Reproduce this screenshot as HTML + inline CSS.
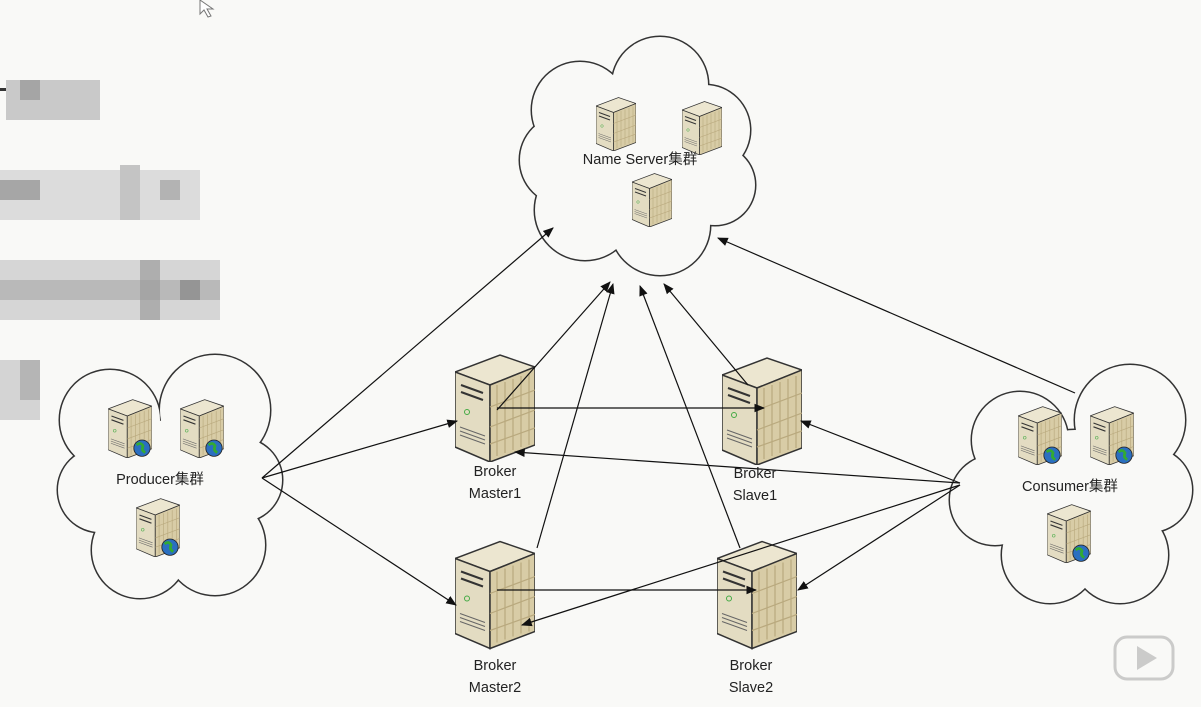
<!DOCTYPE html>
<html><head><meta charset="utf-8"><style>
html,body{margin:0;padding:0;background:#f9f9f7;}
svg text{font-family:"Liberation Sans","Noto Sans CJK SC",sans-serif;fill:#222;}
</style></head><body>
<svg width="1201" height="702" viewBox="0 0 1201 702" xmlns="http://www.w3.org/2000/svg">
<defs>
<symbol id="srv" viewBox="0 0 80 110">
<polygon points="0,20 45,3 80,15 35,33" fill="#ece6d0" stroke="#333" stroke-width="1.5"/>
<polygon points="0,20 35,33 35,110 0,95" fill="#e3dcc2" stroke="#333" stroke-width="1.5"/>
<polygon points="35,33 80,15 80,93 35,110" fill="#d8cca6" stroke="#333" stroke-width="1.5"/>
<g stroke="#b9a97e" stroke-width="1.2">
<line x1="42" y1="33" x2="42" y2="104"/><line x1="50" y1="30" x2="50" y2="101"/><line x1="58" y1="27" x2="58" y2="98"/><line x1="66" y1="24" x2="66" y2="95"/><line x1="74" y1="21" x2="74" y2="93"/>
<line x1="35" y1="55" x2="80" y2="38"/><line x1="35" y1="75" x2="80" y2="58"/><line x1="35" y1="92" x2="80" y2="76"/>
</g>
<g stroke="#333" stroke-width="2"><line x1="6" y1="33" x2="28" y2="41"/><line x1="6" y1="40" x2="28" y2="48"/></g>
<circle cx="12" cy="60" r="2.5" fill="none" stroke="#4a4" stroke-width="1"/>
<g stroke="#666" stroke-width="1"><line x1="5" y1="75" x2="30" y2="84"/><line x1="5" y1="79" x2="30" y2="88"/><line x1="5" y1="83" x2="30" y2="92"/></g>
</symbol>
<symbol id="srvg" viewBox="0 0 80 110">
<use href="#srv" x="0" y="0" width="80" height="110"/>
<circle cx="62" cy="92" r="15" fill="#2b6fc0" stroke="#222" stroke-width="1.5"/>
<path d="M52,86 q8,-6 12,2 q-4,8 4,12" fill="none" stroke="#3a3" stroke-width="5"/>
</symbol>
<marker id="ar" viewBox="0 0 10 10" refX="9" refY="5" markerWidth="9" markerHeight="9" orient="auto-start-reverse">
<path d="M0,1 L10,5 L0,9 z" fill="#111"/></marker>
</defs>

<!-- pixelated blocks -->
<g>
<rect x="6" y="80" width="94" height="40" fill="#c9c9c9"/><rect x="20" y="80" width="20" height="20" fill="#a5a5a5"/><rect x="0" y="88" width="6" height="3" fill="#333"/>
<rect x="0" y="170" width="200" height="50" fill="#dcdcdc"/><rect x="0" y="180" width="40" height="20" fill="#a6a6a6"/><rect x="120" y="165" width="20" height="55" fill="#c4c4c4"/><rect x="160" y="180" width="20" height="20" fill="#b3b3b3"/>
<rect x="0" y="260" width="220" height="60" fill="#d6d6d6"/><rect x="0" y="280" width="220" height="20" fill="#b9b9b9"/><rect x="140" y="260" width="20" height="60" fill="#9c9c9c" opacity="0.7"/><rect x="180" y="280" width="20" height="20" fill="#959595"/>
<rect x="0" y="360" width="40" height="60" fill="#d4d4d4"/><rect x="20" y="360" width="20" height="40" fill="#b5b5b5"/>
</g>
<path d="M200,0 l0,14 l4,-4 l4,7 l3,-1 l-4,-7 l6,0 z" fill="#fff" stroke="#777" stroke-width="1"/>

<!-- clouds -->
<g id="c1">
<g fill="none" stroke="#333" stroke-width="3">
<circle cx="580" cy="110" r="48"/><circle cx="660" cy="85" r="48"/><circle cx="705" cy="130" r="45"/><circle cx="715" cy="185" r="40"/><circle cx="660" cy="225" r="50"/><circle cx="585" cy="210" r="50"/><circle cx="565" cy="160" r="45"/><circle cx="640" cy="160" r="60"/>
</g>
<g fill="#f9f9f7">
<circle cx="580" cy="110" r="48"/><circle cx="660" cy="85" r="48"/><circle cx="705" cy="130" r="45"/><circle cx="715" cy="185" r="40"/><circle cx="660" cy="225" r="50"/><circle cx="585" cy="210" r="50"/><circle cx="565" cy="160" r="45"/><circle cx="640" cy="160" r="60"/>
</g></g>
<g>
<g fill="none" stroke="#333" stroke-width="3">
<circle cx="110" cy="420" r="50"/><circle cx="215" cy="410" r="55"/><circle cx="240" cy="480" r="42"/><circle cx="215" cy="545" r="50"/><circle cx="140" cy="550" r="48"/><circle cx="100" cy="490" r="42"/><circle cx="170" cy="480" r="60"/>
</g>
<g fill="#f9f9f7">
<circle cx="110" cy="420" r="50"/><circle cx="215" cy="410" r="55"/><circle cx="240" cy="480" r="42"/><circle cx="215" cy="545" r="50"/><circle cx="140" cy="550" r="48"/><circle cx="100" cy="490" r="42"/><circle cx="170" cy="480" r="60"/>
</g></g>
<g>
<g fill="none" stroke="#333" stroke-width="3">
<circle cx="1020" cy="440" r="48"/><circle cx="1130" cy="420" r="55"/><circle cx="1150" cy="490" r="42"/><circle cx="1120" cy="555" r="48"/><circle cx="1050" cy="555" r="48"/><circle cx="995" cy="500" r="45"/><circle cx="1075" cy="490" r="60"/>
</g>
<g fill="#f9f9f7">
<circle cx="1020" cy="440" r="48"/><circle cx="1130" cy="420" r="55"/><circle cx="1150" cy="490" r="42"/><circle cx="1120" cy="555" r="48"/><circle cx="1050" cy="555" r="48"/><circle cx="995" cy="500" r="45"/><circle cx="1075" cy="490" r="60"/>
</g></g>

<!-- small servers -->
<use href="#srv" x="596" y="96" width="40" height="55"/>
<use href="#srv" x="682" y="100" width="40" height="55"/>
<use href="#srv" x="632" y="172" width="40" height="55"/>
<use href="#srvg" x="108" y="398" width="44" height="60"/>
<use href="#srvg" x="180" y="398" width="44" height="60"/>
<use href="#srvg" x="136" y="497" width="44" height="60"/>
<use href="#srvg" x="1018" y="405" width="44" height="60"/>
<use href="#srvg" x="1090" y="405" width="44" height="60"/>
<use href="#srvg" x="1047" y="503" width="44" height="60"/>

<!-- big servers -->
<use href="#srv" x="455" y="352" width="80" height="110"/>
<use href="#srv" x="722" y="355" width="80" height="110"/>
<use href="#srv" x="455" y="537" width="80" height="113"/>
<use href="#srv" x="717" y="537" width="80" height="113"/>

<!-- connectors -->
<g stroke="#111" stroke-width="1.2" fill="none" marker-end="url(#ar)">
<line x1="262" y1="478" x2="553" y2="228"/>
<line x1="262" y1="478" x2="457" y2="421"/>
<line x1="262" y1="478" x2="456" y2="605"/>
<line x1="497" y1="410" x2="610" y2="282"/>
<line x1="497" y1="408" x2="764" y2="408"/>
<line x1="537" y1="548" x2="613" y2="284"/>
<line x1="497" y1="590" x2="756" y2="590"/>
<line x1="748" y1="385" x2="664" y2="284"/>
<line x1="740" y1="548" x2="640" y2="286"/>
<line x1="1075" y1="393" x2="718" y2="238"/>
<line x1="960" y1="483" x2="801" y2="421"/>
<line x1="960" y1="483" x2="515" y2="452"/>
<line x1="960" y1="485" x2="522" y2="625"/>
<line x1="960" y1="485" x2="798" y2="590"/>
</g>

<!-- labels -->
<g font-size="14.5" text-anchor="middle">
<text x="640" y="164">Name Server集群</text>
<text x="160" y="484">Producer集群</text>
<text x="1070" y="491">Consumer集群</text>
<text x="495" y="476">Broker</text><text x="495" y="498">Master1</text>
<text x="755" y="478">Broker</text><text x="755" y="500">Slave1</text>
<text x="495" y="670">Broker</text><text x="495" y="692">Master2</text>
<text x="751" y="670">Broker</text><text x="751" y="692">Slave2</text>
</g>

<!-- play icon -->
<g opacity="0.35">
<rect x="1115" y="637" width="58" height="42" rx="12" fill="none" stroke="#777" stroke-width="3"/>
<path d="M1137,646 l0,24 l20,-12 z" fill="#777"/>
</g>
</svg>
</body></html>
